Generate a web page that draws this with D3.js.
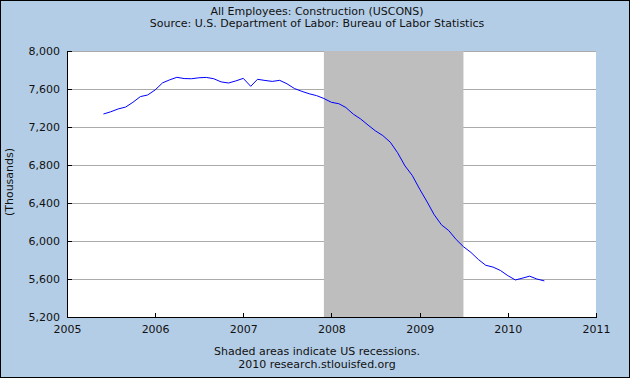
<!DOCTYPE html>
<html>
<head>
<meta charset="utf-8">
<script src="https://cdn.jsdelivr.net/npm/d3@7"></script>
<style>
  body { margin: 0; background: #b4cde6; }
  svg text { font-family: "DejaVu Sans", Verdana, sans-serif; font-size: 11px; fill: #111; }
  .grid line { stroke: #aaaaaa; stroke-width: 1; }
  .axis path, .axis line { stroke: #000; shape-rendering: crispEdges; }
</style>
</head>
<body>
<script>
"use strict";

// monthly values, thousands of employees
var startMonth = "2005-06";
var values = [
  7337, 7360, 7390, 7410, 7460, 7520, 7537,             // 2005 Jun-Dec
  7590, 7665, 7695, 7723, 7710, 7708, 7718, 7722, 7708, 7675, 7663, 7685, // 2006
  7712, 7628, 7702, 7690, 7680, 7691, 7655, 7605, 7575, 7550, 7530, 7500, // 2007
  7460, 7445, 7405, 7335, 7285, 7220, 7160, 7110, 7040, 6930, 6790, 6690, // 2008
  6545, 6410, 6280, 6170, 6110, 6015, 5940, 5880, 5805, 5745, 5725, 5690, // 2009
  5635, 5590, 5608, 5630, 5600, 5580                    // 2010 Jan-Jun
];
var recessions = [["2007-12-01", "2009-07-01"]];
var yTicks = [5200, 5600, 6000, 6400, 6800, 7200, 7600, 8000];
var xTickYears = [2005, 2006, 2007, 2008, 2009, 2010, 2011];
var titleLines = ["All Employees: Construction (USCONS)",
                  "Source: U.S. Department of Labor: Bureau of Labor Statistics"];
var footerLines = ["Shaded areas indicate US recessions.", "2010 research.stlouisfed.org"];

var width = 630, height = 378;
var margin = { left: 67, top: 51, right: 34, bottom: 61 };

var parse = d3.timeParse("%Y-%m");
var t0 = parse(startMonth);
var data = values.map(function (v, i) {
  return { date: d3.timeMonth.offset(t0, i), value: v };
});

var svg = d3.select("body").append("svg")
  .attr("width", width)
  .attr("height", height);

svg.append("rect")
  .attr("x", 0.5).attr("y", 0.5)
  .attr("width", width - 1).attr("height", height - 1)
  .attr("fill", "#b4cde6")
  .attr("stroke", "#000");

var plotW = width - margin.left - margin.right;
var plotH = height - margin.top - margin.bottom;

var x = d3.scaleTime()
  .domain([new Date(2005, 0, 1), new Date(2011, 0, 1)])
  .range([0, plotW]);
var y = d3.scaleLinear()
  .domain([5200, 8000])
  .range([plotH, 0]);

var g = svg.append("g")
  .attr("transform", "translate(" + margin.left + "," + margin.top + ")");

g.append("rect")
  .attr("width", plotW).attr("height", plotH)
  .attr("fill", "#fff");

// grid
g.append("g").attr("class", "grid")
  .selectAll("line").data(yTicks).enter().append("line")
  .attr("x1", 0).attr("x2", plotW)
  .attr("y1", function (d) { return Math.round(y(d)) + 0.5; })
  .attr("y2", function (d) { return Math.round(y(d)) + 0.5; });

// recession shading
g.selectAll(".rec").data(recessions).enter().append("rect")
  .attr("class", "rec")
  .attr("x", function (d) { return x(new Date(d[0])); })
  .attr("width", function (d) { return x(new Date(d[1])) - x(new Date(d[0])); })
  .attr("y", 0).attr("height", plotH)
  .attr("fill", "#bebebe");

// axes
var yAxis = d3.axisLeft(y)
  .tickValues(yTicks)
  .tickSize(-5)
  .tickPadding(7)
  .tickFormat(d3.format(","));
g.append("g").attr("class", "axis y").call(yAxis)
  .call(function (s) { s.select(".domain").attr("d", "M0.5," + plotH + "V0"); });

var xAxis = d3.axisBottom(x)
  .tickValues(xTickYears.map(function (yr) { return new Date(yr, 0, 1); }))
  .tickSize(-5)
  .tickPadding(8)
  .tickFormat(d3.timeFormat("%Y"));
g.append("g").attr("class", "axis x")
  .attr("transform", "translate(0," + (plotH + 0.5) + ")")
  .call(xAxis)
  .call(function (s) { s.select(".domain").attr("d", "M0,0H" + plotW); });

// series
var line = d3.line()
  .x(function (d) { return x(d.date); })
  .y(function (d) { return y(d.value); });

g.append("path")
  .datum(data)
  .attr("d", line)
  .attr("fill", "none")
  .attr("stroke", "#0000ff")
  .attr("stroke-width", 1);

// labels
svg.selectAll(".title").data(titleLines).enter().append("text")
  .attr("class", "title")
  .attr("x", 317).attr("y", function (d, i) { return 15 + i * 12; })
  .attr("text-anchor", "middle")
  .text(function (d) { return d; });

svg.selectAll(".footer").data(footerLines).enter().append("text")
  .attr("class", "footer")
  .attr("x", 317).attr("y", function (d, i) { return 355 + i * 13; })
  .attr("text-anchor", "middle")
  .text(function (d) { return d; });

svg.append("text")
  .attr("transform", "translate(13,182) rotate(-90)")
  .attr("text-anchor", "middle")
  .text("(Thousands)");
</script>
</body>
</html>
